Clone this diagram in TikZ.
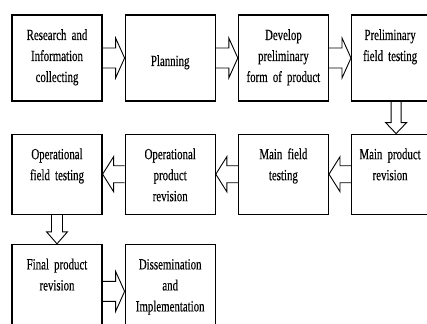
\documentclass[tikz,border=0pt]{standalone}
\usepackage{fontspec}
\setmainfont{Liberation Serif}[FakeStretch=0.7, FakeBold=0.3, WordSpace=0.7]
\usepackage{tikz}
\usetikzlibrary{positioning,calc}
\tikzset{
  box/.style={
    draw,
    line width=1.2pt,
    align=center,
    inner xsep=3pt,
    inner ysep=14pt,
    text width=84pt,
    text height=11pt,
    font=\fontsize{15.5}{21}\selectfont
  },
  topbox/.style={box, text depth=47pt},
  midbox/.style={box, text depth=41pt},
  lowbox/.style={box, text depth=55pt},
  fatline/.style={line width=0.9pt, line join=miter}
}
% hollow block arrow: from, to, shaft half width, head half width, head length
\newcommand{\fatarrow}[5]{%
  \coordinate (hb) at ($(#2)!#5!(#1)$);
  \draw[fatline] ($(#1)!#3!90:(#2)$) -- ($(hb)!#3!90:(#2)$) -- ($(hb)!#4!90:(#2)$) -- (#2)
    -- ($(hb)!#4!-90:(#2)$) -- ($(hb)!#3!-90:(#2)$) -- ($(#1)!#3!-90:(#2)$);
}

\begin{document}
\begin{tikzpicture}[x=1pt, y=1pt, node distance=32pt and 22pt]
  \useasboundingbox (0,0) rectangle (427,-323);

  \node[topbox] (research) at (57,-58) {Research and\\Information\\collecting};
  \node[topbox, right=of research, text height=37pt, text depth=21pt] (plan) {Planning};
  \node[topbox, right=of plan] (develop) {Develop\\preliminary\\form of product};
  \node[topbox, right=of develop, text width=71pt] (prelim) {Preliminary\\field testing};

  \node[midbox, below=of prelim, text width=71pt] (mainrev) {Main product\\revision};
  \node[midbox, left=of mainrev] (mainfield) {Main field\\testing};
  \node[midbox, left=of mainfield] (oprev) {Operational\\product\\revision};
  \node[midbox, left=of oprev] (opfield) {Operational\\field testing};

  \node[lowbox, below=29pt of opfield] (finalrev) {Final product\\revision};
  \node[lowbox, right=of finalrev] (dissem) {Dissemination\\and\\Implementation};

  \fatarrow{research.east}{plan.west}{10pt}{20pt}{9pt}
  \fatarrow{plan.east}{develop.west}{10pt}{20pt}{9pt}
  \fatarrow{develop.east}{prelim.west}{10pt}{20pt}{9pt}
  \fatarrow{[xshift=6pt]prelim.south}{[xshift=6pt]mainrev.north}{5pt}{10.5pt}{11pt}
  \fatarrow{mainrev.west}{mainfield.east}{8.5pt}{17.5pt}{11pt}
  \fatarrow{mainfield.west}{oprev.east}{8.5pt}{17.5pt}{11pt}
  \fatarrow{oprev.west}{opfield.east}{8.5pt}{17.5pt}{11pt}
  \fatarrow{opfield.south}{finalrev.north}{5.5pt}{10.5pt}{12pt}
  \fatarrow{finalrev.east}{dissem.west}{10pt}{20pt}{9pt}
\end{tikzpicture}
\end{document}
